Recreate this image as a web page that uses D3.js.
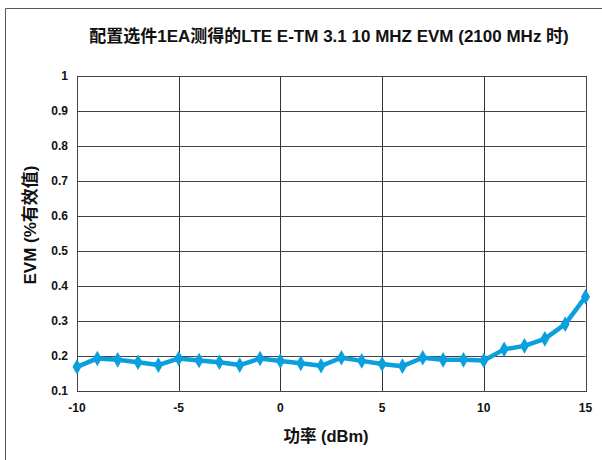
<!DOCTYPE html>
<html><head><meta charset="utf-8">
<script src="https://cdn.jsdelivr.net/npm/d3@7"></script>
<style>body{margin:0;background:#fff}svg{display:block}</style>
</head><body>
<script>
const title = "配置选件1EA测得的LTE E-TM 3.1 10 MHZ EVM (2100 MHz 时)";
const xLabel = "功率 (dBm)";
const yLabel = "EVM (%有效值)";
const power = [-10,-9,-8,-7,-6,-5,-4,-3,-2,-1,0,1,2,3,4,5,6,7,8,9,10,11,12,13,14,15];
const evm = [0.169,0.193,0.189,0.182,0.174,0.193,0.187,0.182,0.174,0.193,0.186,0.179,0.172,0.195,0.186,0.177,0.171,0.195,0.189,0.189,0.187,0.219,0.229,0.249,0.291,0.369];
const xTicks = [-10,-5,0,5,10,15];
const yTicks = [0.1,0.2,0.3,0.4,0.5,0.6,0.7,0.8,0.9,1];

const W = 602, H = 460;
const svg = d3.select("body").append("svg").attr("width", W).attr("height", H);
const font = "Arial, 'Liberation Sans', 'Noto Sans CJK SC', sans-serif";

// outer frame (open on right/bottom)
svg.append("path").attr("d", "M5.5,460 V8.5 H602").attr("fill","none").attr("stroke","#555").attr("stroke-width",1);

const L = 77, R = 585.5, T = 76, B = 391;
const x = d3.scaleLinear().domain([-10,15]).range([L,R]);
const y = d3.scaleLinear().domain([0.1,1]).range([B,T]);

const g = svg.append("g");
// grid
g.selectAll("line.h").data(yTicks).join("line")
  .attr("x1",L).attr("x2",R).attr("y1",d=>Math.round(y(d))+0.5).attr("y2",d=>Math.round(y(d))+0.5)
  .attr("stroke","#444").attr("stroke-width",1);
g.selectAll("line.v").data(xTicks).join("line")
  .attr("y1",T).attr("y2",B).attr("x1",d=>Math.round(x(d))+0.5).attr("x2",d=>Math.round(x(d))+0.5)
  .attr("stroke","#333").attr("stroke-width",1);
g.append("rect").attr("x",Math.round(L)+0.5).attr("y",Math.round(T)+0.5)
  .attr("width",Math.round(R)-Math.round(L)).attr("height",Math.round(B)-Math.round(T))
  .attr("fill","none").attr("stroke","#444");

// tick labels
svg.selectAll("text.yt").data(yTicks).join("text")
  .attr("x",68).attr("y",d=>y(d)+4).attr("text-anchor","end")
  .attr("font-family",font).attr("font-weight","bold").attr("font-size",12).attr("fill","#111")
  .text(d=>d3.format("~g")(d));
svg.selectAll("text.xt").data(xTicks).join("text")
  .attr("x",d=>x(d)).attr("y",412).attr("text-anchor","middle")
  .attr("font-family",font).attr("font-weight","bold").attr("font-size",12).attr("fill","#111")
  .text(d=>d);

// titles
svg.append("text").attr("x",329).attr("y",42).attr("text-anchor","middle")
  .attr("font-family",font).attr("font-weight","bold").attr("font-size",17).attr("fill","#111").text(title);
svg.append("text").attr("x",326).attr("y",442).attr("text-anchor","middle")
  .attr("font-family",font).attr("font-weight","bold").attr("font-size",16.5).attr("fill","#111").text(xLabel);
svg.append("text").attr("transform","translate(36,225) rotate(-90)").attr("text-anchor","middle")
  .attr("font-family",font).attr("font-weight","bold").attr("font-size",17).attr("fill","#111").text(yLabel);

// series
const data = power.map((p,i)=>({p, v:evm[i]}));
svg.append("path").datum(data)
  .attr("d", d3.line().x(d=>x(d.p)).y(d=>y(d.v)))
  .attr("fill","none").attr("stroke","#0aa0dd").attr("stroke-width",4.5).attr("stroke-linejoin","round");
svg.selectAll("path.m").data(data).join("path")
  .attr("transform",d=>`translate(${x(d.p)},${y(d.v)})`)
  .attr("d", d3.symbol(d3.symbolDiamond, 70)())
  .attr("fill","#0aa0dd");
</script>
</body></html>
